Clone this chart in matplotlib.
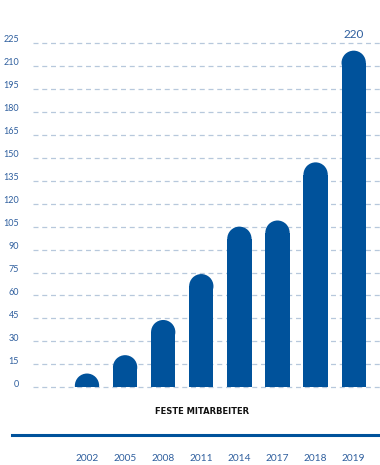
import numpy as np
import matplotlib
matplotlib.use('Agg')
import matplotlib.pyplot as plt
from matplotlib.patches import Ellipse
from matplotlib.transforms import ScaledTranslation

# ── Data ──────────────────────────────────────────────────────────────────────
years = ["2002", "2005", "2008", "2011", "2014", "2017", "2018", "2019"]
staff = [9, 21, 44, 74, 105, 109, 147, 220]
y_ticks = list(range(0, 226, 15))
label_year = "2019"
label_text = "220"
title = "FESTE MITARBEITER"

# ── Style ─────────────────────────────────────────────────────────────────────
BLUE = "#00529B"
TICK = "#2F5F9E"
GRID = "#B7C8DC"
plt.rcParams['font.family'] = ['Lato', 'DejaVu Sans']

W, H = 380, 465
fig = plt.figure(figsize=(W / 100, H / 100), dpi=100, facecolor="white")

# axes placed in pixel terms: x 33..380, y(0)=387, y(225)=43
ax = fig.add_axes([33 / W, (H - 387.3) / H, 347 / W, 344.3 / H])
ax.set_ylim(0, 225)
step = 38.1  # px between bar centres
x0 = 87      # px of first bar centre
ax.set_xlim(-(x0 - 33) / step, 7 + (380 - (x0 + 7 * step)) / step)
for s in ax.spines.values():
    s.set_visible(False)

# grid
for v in y_ticks:
    ax.axhline(v, color=GRID, lw=0.9, ls=(0, (4, 3)), zorder=0, clip_on=False)

# rounded bars: rectangle + circular cap
bar_w = 24.3 / step
px_per_unit = 344.3 / 225
r_units = (24.3 / 2) / px_per_unit
xs = np.arange(len(years))
for x, v in zip(xs, staff):
    ax.bar(x, max(v - r_units, 0), width=bar_w, color=BLUE, zorder=2)
    ax.add_patch(Ellipse((x, v - r_units), bar_w, 2 * r_units,
                         facecolor=BLUE, edgecolor='none', zorder=2))

# value label
i = years.index(label_year)
ax.text(xs[i], staff[i] + 7, label_text, color=TICK, fontsize=8.5,
        ha='center', va='bottom')

# ticks
ax.set_yticks(y_ticks)
ax.set_yticklabels([str(v) for v in y_ticks])
ax.tick_params(axis='y', length=0, pad=10, labelsize=6.5, labelcolor=TICK)
for lab in ax.get_yticklabels():
    lab.set_transform(lab.get_transform() + ScaledTranslation(0, 3 / 72, fig.dpi_scale_trans))
ax.set_xticks(xs)
ax.set_xticklabels(years)
ax.tick_params(axis='x', length=0, pad=48, labelsize=7.3, labelcolor=TICK)

# category title and baseline rule
fig.text(202 / W, 1 - 411 / H, title, fontsize=6.0, fontweight='bold',
         color="#111111", ha='center', va='center', family='DejaVu Sans')
fig.add_artist(plt.Line2D([12 / W, 1.0], [1 - 435 / H] * 2,
                          transform=fig.transFigure, color=BLUE, lw=2.2))

fig.savefig("out.png", dpi=100, facecolor="white")
